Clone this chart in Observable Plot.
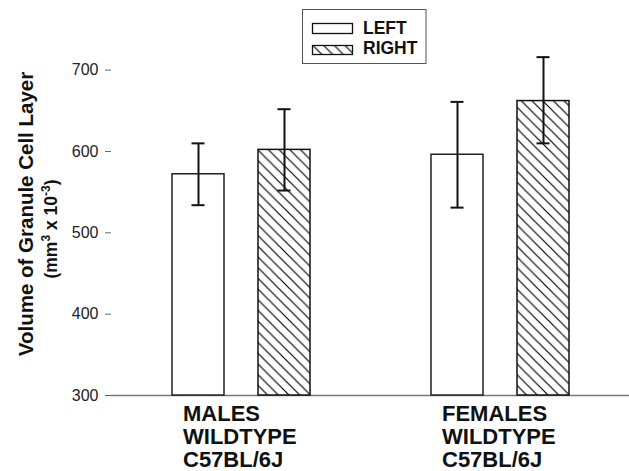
<!DOCTYPE html>
<html>
<head>
<meta charset="utf-8">
<script src="https://cdn.jsdelivr.net/npm/d3@7"></script>
<script src="https://cdn.jsdelivr.net/npm/@observablehq/plot@0.6"></script>
<style>
  html, body { margin: 0; padding: 0; background: #fff; }
  #chart { width: 629px; height: 471px; }
</style>
</head>
<body>
<div id="chart"></div>
<script>
// ---- data ----
const groups = ["MALES\nWILDTYPE\nC57BL/6J", "FEMALES\nWILDTYPE\nC57BL/6J"];
const sides = ["LEFT", "RIGHT"];
const means  = [572, 602, 596, 662];
const errLow = [534, 552, 531, 610];
const errHigh = [610, 652, 661, 716];
const yTicks = [300, 400, 500, 600, 700];
const yLabel1 = "Volume of Granule Cell Layer";

const rows = [];
groups.forEach((g, gi) => sides.forEach((s, si) => {
  const i = gi * sides.length + si;
  rows.push({group: g, side: s, mean: means[i], lo: errLow[i], hi: errHigh[i]});
}));

const chart = Plot.plot({
  width: 629,
  height: 471,
  marginLeft: 110,
  marginRight: 0,
  marginTop: 29,
  marginBottom: 76,
  style: {fontFamily: "'Liberation Sans', Arial, sans-serif", background: "#fff"},
  fx: {domain: groups, padding: 0},
  x: {domain: sides, paddingInner: 0.397, paddingOuter: 0.702, axis: null},
  y: {domain: [300, 750]},
  marks: [
    Plot.ruleY([300], {stroke: "#777", strokeWidth: 1.5}),
    Plot.axisY({ticks: yTicks, tickSize: 6, tickPadding: 7, fontSize: 16, stroke: "#666", color: "#222", label: null, line: true}),
    Plot.axisFx({anchor: "bottom", label: null, tickSize: 0, tickPadding: 3, fontSize: 22, fontWeight: "bold",
                 textAnchor: "start", dx: -58, dy: 6, lineHeight: 1.05, fill: "#111"}),
    Plot.barY(rows.filter(d => d.side === "LEFT"), {fx: "group", x: "side", y1: 300, y2: "mean", fill: "white", stroke: "#222", strokeWidth: 1.5}),
    Plot.barY(rows.filter(d => d.side === "RIGHT"), {fx: "group", x: "side", y1: 300, y2: "mean", fill: "url(#hatch)", stroke: "#111", strokeWidth: 1.5}),
    Plot.ruleX(rows, {fx: "group", x: "side", y1: "lo", y2: "hi", stroke: "#111", strokeWidth: 2}),
    Plot.tickY(rows, {fx: "group", x: "side", y: "hi", stroke: "#111", strokeWidth: 2, insetLeft: 19.5, insetRight: 19.5}),
    Plot.tickY(rows, {fx: "group", x: "side", y: "lo", stroke: "#111", strokeWidth: 2, insetLeft: 19.5, insetRight: 19.5})
  ]
});

document.getElementById("chart").appendChild(chart);

const svg = d3.select(chart);
// hatch pattern
const defs = svg.insert("defs", ":first-child");
const pat = defs.append("pattern")
  .attr("id", "hatch").attr("patternUnits", "userSpaceOnUse")
  .attr("width", 10.7).attr("height", 10.7);
pat.append("rect").attr("width", 10.7).attr("height", 10.7).attr("fill", "white");
pat.append("path")
  .attr("d", "M0,0L10.7,10.7M-2,8.7L2,12.7M8.7,-2L12.7,2")
  .attr("stroke", "#000").attr("stroke-width", 1.2);

// y-axis title
const ff = "'Liberation Sans', Arial, sans-serif";
svg.append("text")
  .attr("transform", "translate(33,214) rotate(-90)")
  .attr("text-anchor", "middle")
  .attr("font-family", ff).attr("font-size", 20.5).attr("font-weight", "bold").attr("fill", "#111")
  .text(yLabel1);
const t2 = svg.append("text")
  .attr("transform", "translate(57,229) rotate(-90)")
  .attr("text-anchor", "middle")
  .attr("font-family", ff).attr("font-size", 17.5).attr("font-weight", "bold").attr("fill", "#111");
t2.append("tspan").text("(mm");
t2.append("tspan").attr("dy", -7).attr("font-size", 12).text("3");
t2.append("tspan").attr("dy", 7).text(" x 10");
t2.append("tspan").attr("dy", -7).attr("font-size", 12).text("-3");
t2.append("tspan").attr("dy", 7).text(")");

// legend
const lg = svg.append("g");
lg.append("rect").attr("x", 302.5).attr("y", 9.5).attr("width", 123.5).attr("height", 54)
  .attr("fill", "white").attr("stroke", "#555").attr("stroke-width", 1);
lg.append("rect").attr("x", 312.5).attr("y", 23.5).attr("width", 40).attr("height", 10)
  .attr("fill", "white").attr("stroke", "#111").attr("stroke-width", 1.3);
lg.append("rect").attr("x", 312.5).attr("y", 45.5).attr("width", 40).attr("height", 9)
  .attr("fill", "url(#hatch)").attr("stroke", "#111").attr("stroke-width", 1.3);
lg.selectAll("text.lg").data(sides).join("text")
  .attr("x", 363).attr("y", (d, i) => i === 0 ? 33.5 : 53.5)
  .attr("text-anchor", "start")
  .attr("font-family", ff).attr("font-size", 17.5).attr("font-weight", "bold").attr("fill", "#111")
  .text(d => d);
</script>
</body>
</html>
